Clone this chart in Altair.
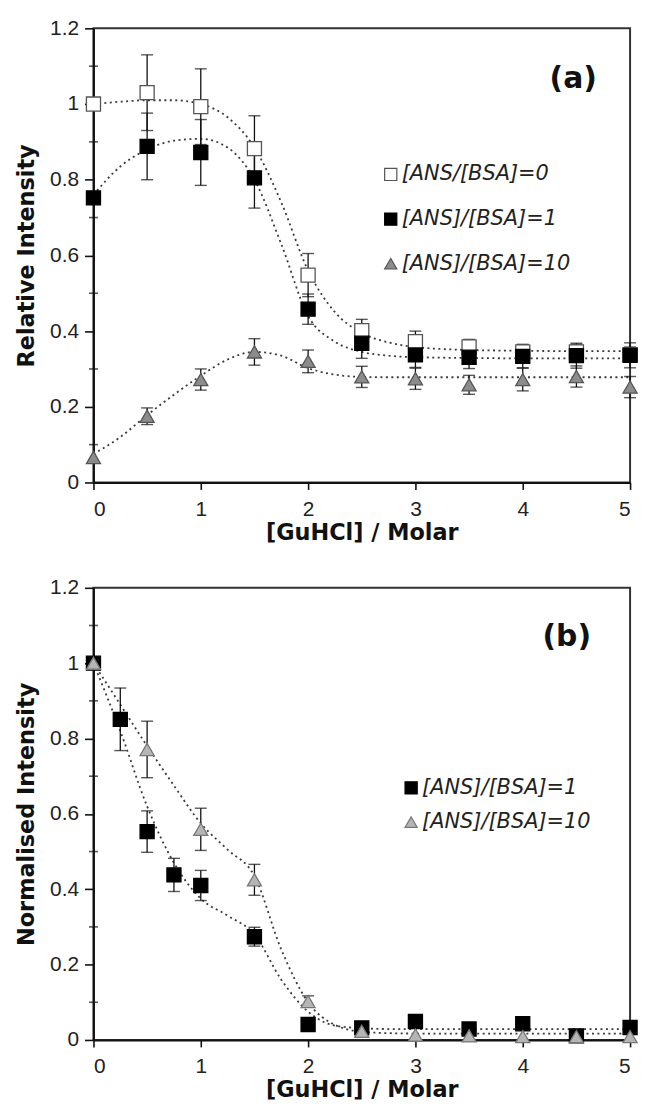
import altair as alt
import pandas as pd

# ---------------- Panel (a) data ----------------
XA = [0, 0.5, 1, 1.5, 2, 2.5, 3, 3.5, 4, 4.5, 5]
A0_Y = [1.00, 1.03, 0.993, 0.882, 0.548, 0.401, 0.372, 0.358, 0.345, 0.345, 0.338]
A0_ERR = [0.0, 0.10, 0.10, 0.087, 0.057, 0.03, 0.028, 0.02, 0.02, 0.02, 0.02]
A1_Y = [0.752, 0.888, 0.872, 0.805, 0.458, 0.368, 0.337, 0.331, 0.333, 0.335, 0.336]
A1_ERR = [0.0, 0.088, 0.087, 0.08, 0.04, 0.04, 0.033, 0.03, 0.03, 0.033, 0.033]
A10_Y = [0.066, 0.175, 0.272, 0.345, 0.32, 0.279, 0.274, 0.258, 0.272, 0.28, 0.252]
A10_ERR = [0.0, 0.022, 0.028, 0.035, 0.03, 0.028, 0.028, 0.025, 0.03, 0.028, 0.028]

# dotted fit curves
CX = [0, 0.25, 0.5, 0.75, 1, 1.25, 1.5, 1.75, 2, 2.25, 2.5, 2.75, 3, 3.5, 4, 4.5, 5]
CA0 = [1.0, 1.006, 1.01, 1.01, 1.0, 0.965, 0.885, 0.74, 0.56, 0.45, 0.395, 0.37, 0.358, 0.35, 0.348, 0.347, 0.347]
CA1 = [0.76, 0.835, 0.88, 0.903, 0.908, 0.885, 0.80, 0.63, 0.44, 0.372, 0.345, 0.335, 0.331, 0.329, 0.328, 0.328, 0.328]
CA10 = [0.075, 0.12, 0.178, 0.232, 0.282, 0.325, 0.345, 0.335, 0.302, 0.285, 0.279, 0.278, 0.278, 0.278, 0.278, 0.278, 0.278]

# ---------------- Panel (b) data ----------------
XB1 = [0, 0.25, 0.5, 0.75, 1, 1.5, 2, 2.5, 3, 3.5, 4, 4.5, 5]
B1_Y = [1.0, 0.851, 0.553, 0.438, 0.41, 0.274, 0.041, 0.032, 0.049, 0.029, 0.043, 0.011, 0.033]
B1_ERR = [0, 0.083, 0.055, 0.044, 0.04, 0.025, 0, 0, 0, 0, 0, 0, 0]
XB10 = [0, 0.5, 1, 1.5, 2, 2.5, 3, 3.5, 4, 4.5, 5]
B10_Y = [1.0, 0.771, 0.559, 0.425, 0.102, 0.023, 0.013, 0.011, 0.009, 0.009, 0.009]
B10_ERR = [0, 0.075, 0.056, 0.041, 0.015, 0, 0, 0, 0, 0, 0]

CB1 = [1.0, 0.82, 0.62, 0.47, 0.375, 0.33, 0.28, 0.16, 0.075, 0.038, 0.031, 0.029, 0.029, 0.029, 0.029, 0.029, 0.029]
CB10 = [1.0, 0.89, 0.78, 0.675, 0.575, 0.505, 0.435, 0.24, 0.10, 0.04, 0.022, 0.018, 0.017, 0.017, 0.017, 0.017, 0.017]

S0 = "[ANS/[BSA]=0"
S1 = "[ANS]/[BSA]=1"
S10 = "[ANS]/[BSA]=10"

Y_MAJOR = [0, 0.2, 0.4, 0.6, 0.8, 1.0, 1.2]
Y_MINOR = [0.1, 0.3, 0.5, 0.7, 0.9, 1.1]
X_TICKS = [0, 1, 2, 3, 4, 5]

# legend positions (data coordinates) and panel tags
LEG_A_X, LEG_A_Y = 2.77, [0.814, 0.696, 0.578]
LEG_B_X, LEG_B_Y = 2.96, [0.669, 0.578]
TAG_A = ("(a)", 4.47, 1.066)
TAG_B = ("(b)", 4.41, 1.07)

SHAPES = {S0: "square", S1: "square", S10: "triangle-up"}

FONT = "Liberation Sans"
TFONT = "DejaVu Sans"


def build_points(series_list):
    rows = []
    for name, xs, ys, errs in series_list:
        for x, y, e in zip(xs, ys, errs):
            rows.append({"series": name, "x": x, "y": y, "lo": y - e, "hi": y + e, "err": e})
    return pd.DataFrame(rows)


def build_curves(series_list):
    rows = []
    for name, ys in series_list:
        for x, y in zip(CX, ys):
            rows.append({"series": name, "x": x, "y": y})
    return pd.DataFrame(rows)


def panel(pts, curves, series, fills, strokes, leg_x, leg_ys, tag, ytitle, height):
    xs = alt.Scale(domain=[0, 5], nice=False, zero=False)
    ys = alt.Scale(domain=[0, 1.2], nice=False, zero=False)
    shape_scale = alt.Scale(domain=series, range=[SHAPES[s] for s in series])
    fill_scale = alt.Scale(domain=series, range=fills)
    stroke_scale = alt.Scale(domain=series, range=strokes)

    x_axis = alt.Axis(values=X_TICKS, title="[GuHCl] / Molar", format="~g", grid=False,
                      tickSize=7, labelPadding=9, titlePadding=2)
    y_axis = alt.Axis(values=Y_MAJOR, title=ytitle, format="~g", grid=False,
                      tickSize=9, labelPadding=6, titlePadding=11)

    base = alt.Chart(pts)
    curve = alt.Chart(curves).mark_line(
        strokeDash=[2, 3.5], color="#3a3a3a", strokeWidth=1.8, interpolate="monotone"
    ).encode(
        x=alt.X("x:Q", scale=xs, axis=x_axis),
        y=alt.Y("y:Q", scale=ys, axis=y_axis),
        detail="series:N",
    )
    errdata = base.transform_filter("datum.err > 0")
    rules = errdata.mark_rule(color="#111", strokeWidth=1.3).encode(
        x=alt.X("x:Q", scale=xs), y=alt.Y("lo:Q", scale=ys), y2="hi:Q"
    )
    cap_lo = errdata.mark_tick(color="#111", orient="horizontal", size=12, thickness=1.4).encode(
        x=alt.X("x:Q", scale=xs), y=alt.Y("lo:Q", scale=ys)
    )
    cap_hi = errdata.mark_tick(color="#111", orient="horizontal", size=12, thickness=1.4).encode(
        x=alt.X("x:Q", scale=xs), y=alt.Y("hi:Q", scale=ys)
    )
    points = base.mark_point(filled=False, size=200, strokeWidth=1.3, opacity=1).encode(
        x=alt.X("x:Q", scale=xs),
        y=alt.Y("y:Q", scale=ys),
        shape=alt.Shape("series:N", scale=shape_scale, legend=None),
        fill=alt.Fill("series:N", scale=fill_scale, legend=None),
        stroke=alt.Stroke("series:N", scale=stroke_scale, legend=None),
    )
    minor = alt.Chart(pd.DataFrame({"x": [0] * len(Y_MINOR), "y": Y_MINOR})).mark_tick(
        color="#111", orient="horizontal", size=9, thickness=1.6
    ).encode(x=alt.X("x:Q", scale=xs), y=alt.Y("y:Q", scale=ys))

    leg_df = pd.DataFrame({"series": series, "x": [leg_x] * len(series), "y": leg_ys})
    leg_sym = alt.Chart(leg_df).mark_point(filled=False, size=150, strokeWidth=1.2, opacity=1).encode(
        x=alt.X("x:Q", scale=xs),
        y=alt.Y("y:Q", scale=ys),
        shape=alt.Shape("series:N", scale=shape_scale, legend=None),
        fill=alt.Fill("series:N", scale=fill_scale, legend=None),
        stroke=alt.Stroke("series:N", scale=stroke_scale, legend=None),
    )
    leg_txt = alt.Chart(leg_df).mark_text(
        align="left", baseline="middle", dx=11, font=TFONT, fontSize=21,
        fontStyle="italic", color="#222"
    ).encode(x=alt.X("x:Q", scale=xs), y=alt.Y("y:Q", scale=ys), text="series:N")

    tag_df = pd.DataFrame({"t": [tag[0]], "x": [tag[1]], "y": [tag[2]]})
    tag_txt = alt.Chart(tag_df).mark_text(
        align="center", baseline="middle", font=TFONT, fontSize=30, fontWeight="bold", color="#111"
    ).encode(x=alt.X("x:Q", scale=xs), y=alt.Y("y:Q", scale=ys), text="t:N")

    return alt.layer(curve, rules, cap_lo, cap_hi, points, minor, leg_sym, leg_txt, tag_txt).properties(
        width=540, height=height
    )


pts_a = build_points([(S0, XA, A0_Y, A0_ERR), (S1, XA, A1_Y, A1_ERR), (S10, XA, A10_Y, A10_ERR)])
cur_a = build_curves([(S0, CA0), (S1, CA1), (S10, CA10)])
pts_b = build_points([(S1, XB1, B1_Y, B1_ERR), (S10, XB10, B10_Y, B10_ERR)])
cur_b = build_curves([(S1, CB1), (S10, CB10)])

top = panel(pts_a, cur_a, [S0, S1, S10], ["#ffffff", "#000000", "#8c8c8c"], ["#555555", "#000000", "#555555"],
            LEG_A_X, LEG_A_Y, TAG_A, "Relative Intensity", 457)
bottom = panel(pts_b, cur_b, [S1, S10], ["#000000", "#b5b5b5"], ["#000000", "#777777"],
               LEG_B_X, LEG_B_Y, TAG_B, "Normalised Intensity", 455)

chart = alt.vconcat(
    top, bottom, spacing=31,
    background="white", padding={"left": 6, "top": 5, "right": 0, "bottom": 0},
).resolve_scale(
    shape="independent", fill="independent", stroke="independent"
).configure_view(
    stroke="#333", strokeWidth=2
).configure_axis(
    domainColor="#111", domainWidth=2, tickColor="#111", tickWidth=1.6,
    labelFont=FONT, labelFontSize=21, labelColor="#222",
    titleFont=TFONT, titleFontSize=22.5, titleFontWeight="bold", titleColor="#111",
)

chart.save("out.html", embed_options={"renderer": "svg", "actions": False})
